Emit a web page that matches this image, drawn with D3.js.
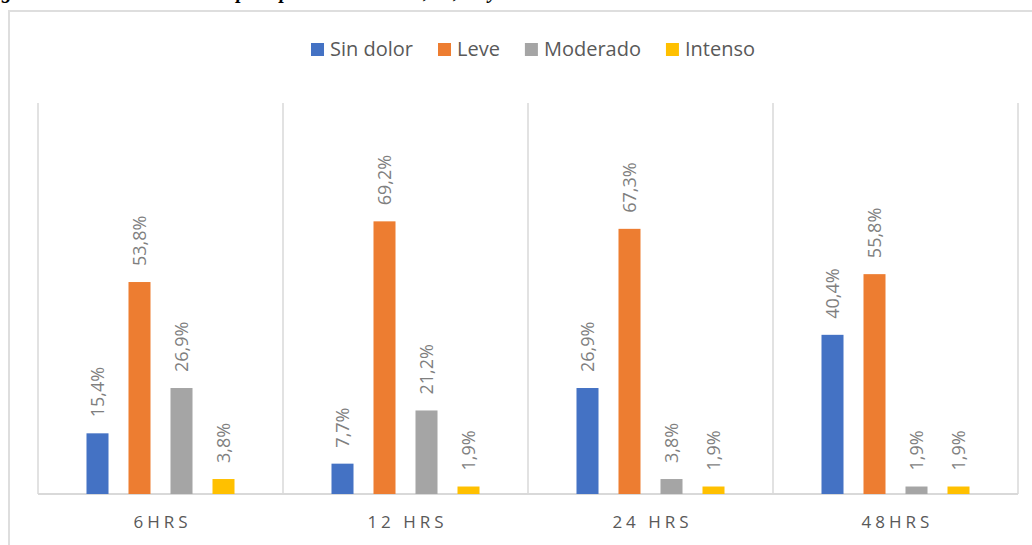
<!DOCTYPE html>
<html lang="es">
<head>
    <meta charset="UTF-8">
    <title>Dolor postoperatorio</title>
    <script src="https://d3js.org/d3.v7.min.js"></script>
    <style>
        body { margin: 0; background: #fff; }
        svg { display: block; }
        .cap { font-family: "Liberation Serif", serif; font-weight: bold; font-style: italic; font-size: 20px; fill: #000; }
        .legend text { font-family: "Open Sans", sans-serif; font-size: 20px; fill: #595959; }
        .val { font-family: "Open Sans", sans-serif; font-size: 18px; fill: #7f7f7f; }
        .cat { font-family: "Open Sans", sans-serif; font-size: 17px; fill: #595959; letter-spacing: 4px; }
    </style>
</head>
<body>
<svg width="1032" height="545"></svg>

<script>
    // categorias y series
    const categories = ["6HRS", "12 HRS", "24 HRS", "48HRS"];
    const seriesNames = ["Sin dolor", "Leve", "Moderado", "Intenso"];
    const sinDolor = [15.4, 7.7, 26.9, 40.4];
    const leve = [53.8, 69.2, 67.3, 55.8];
    const moderado = [26.9, 21.2, 3.8, 1.9];
    const intenso = [3.8, 1.9, 1.9, 1.9];
    const colors = ["#4472c4", "#ed7d31", "#a5a5a5", "#ffc000"];

    const values = [sinDolor, leve, moderado, intenso];

    const svg = d3.select("svg");

    // caption cut off at the top of the picture
    svg.append("text").attr("class", "cap")
        .attr("x", -17).attr("y", -2)
        .text("Figura 1. Intensidad del dolor postoperatorio en las 6, 12, 24 y 48 horas.");

    // outer chart frame
    svg.append("rect")
        .attr("x", 9).attr("y", 11)
        .attr("width", 1040).attr("height", 560)
        .attr("fill", "none").attr("stroke", "#dedede").attr("stroke-width", 2);

    const plotL = 38, plotR = 1018, plotT = 103, base = 494;

    const x0 = d3.scaleBand().domain(categories).range([plotL, plotR]);
    const x1 = d3.scaleBand().domain(seriesNames)
        .range([-84, 84]).paddingInner(0.476).paddingOuter(0.238);
    const y = d3.scaleLinear().domain([0, 100]).range([base, 100]);

    // vertical separators
    const bounds = categories.map(c => x0(c)).concat([plotR]);
    svg.append("g").selectAll("line")
        .data(bounds).join("line")
        .attr("x1", d => d).attr("x2", d => d)
        .attr("y1", plotT).attr("y2", base)
        .attr("stroke", "#d9d9d9").attr("stroke-width", 1.5);

    // baseline
    svg.append("line")
        .attr("x1", plotL).attr("x2", plotR)
        .attr("y1", base).attr("y2", base)
        .attr("stroke", "#d9d9d9").attr("stroke-width", 2);

    // bars + labels
    const rows = [];
    categories.forEach((c, i) => {
        seriesNames.forEach((s, j) => {
            rows.push({ cat: c, ser: s, v: values[j][i], col: colors[j] });
        });
    });

    const g = svg.append("g");
    g.selectAll("rect")
        .data(rows).join("rect")
        .attr("x", d => x0(d.cat) + x0.bandwidth() / 2 + x1(d.ser))
        .attr("y", d => y(d.v))
        .attr("width", x1.bandwidth())
        .attr("height", d => base - y(d.v))
        .attr("fill", d => d.col);

    g.selectAll("text")
        .data(rows).join("text")
        .attr("class", "val")
        .attr("transform", d => {
            const cx = x0(d.cat) + x0.bandwidth() / 2 + x1(d.ser) + x1.bandwidth() / 2;
            return `translate(${cx},${y(d.v) - 16}) rotate(-90)`;
        })
        .attr("dy", "0.36em")
        .text(d => d.v.toFixed(1).replace(".", ",") + "%");

    // category labels
    svg.append("g").selectAll("text")
        .data(categories).join("text")
        .attr("class", "cat")
        .attr("x", d => x0(d) + x0.bandwidth() / 2 + 2)
        .attr("y", 528)
        .attr("text-anchor", "middle")
        .text(d => d);

    // legend
    const leg = svg.append("g").attr("class", "legend");
    let lx = 0;
    seriesNames.forEach((s, j) => {
        leg.append("rect")
            .attr("x", lx).attr("y", 43)
            .attr("width", 13).attr("height", 13)
            .attr("fill", colors[j]);
        const t = leg.append("text")
            .attr("x", lx + 19).attr("y", 56)
            .text(s);
        lx += 19 + t.node().getComputedTextLength() + 25;
    });
    const legW = lx - 25;
    leg.attr("transform", `translate(${533 - legW / 2},0)`);
</script>
</body>
</html>
